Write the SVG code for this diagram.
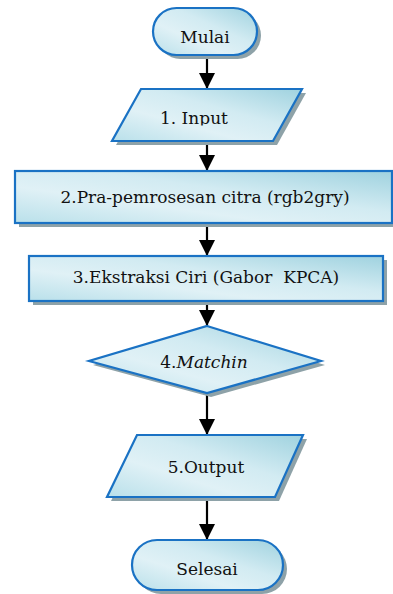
<svg xmlns="http://www.w3.org/2000/svg" width="393" height="594" viewBox="0 0 393 594">
<defs>
<linearGradient id="g" x1="0" y1="1" x2="1" y2="0">
<stop offset="0" stop-color="#b9e0ea"/>
<stop offset="0.35" stop-color="#e0f1f6"/>
<stop offset="0.6" stop-color="#d2ebf2"/>
<stop offset="1" stop-color="#9fd2df"/>
</linearGradient>
<marker id="ah" markerUnits="userSpaceOnUse" markerWidth="18" markerHeight="18" refX="16" refY="8" orient="auto">
<path d="M0,0 L16,8 L0,16 Z" fill="#000"/>
</marker>
<clipPath id="clipIn"><rect x="100" y="80" width="220" height="45.5"/></clipPath>
</defs>
<style>
.sh{fill:#8ea2a8}
.nd{fill:url(#g);stroke:#1a72c4;stroke-width:2.2}
.tx{font-family:'DejaVu Serif',serif;font-size:17px;fill:#111;text-anchor:middle;white-space:pre}
.cn{stroke:#000;stroke-width:2.2;fill:none;marker-end:url(#ah)}
</style>
<rect width="393" height="594" fill="#fff"/>
<g id="connectors">
<line class="cn" x1="207" y1="55" x2="207" y2="89"/>
<line class="cn" x1="207" y1="142" x2="207" y2="171"/>
<line class="cn" x1="207" y1="224" x2="207" y2="256"/>
<line class="cn" x1="207" y1="302" x2="207" y2="326"/>
<line class="cn" x1="207" y1="394" x2="207" y2="435"/>
<line class="cn" x1="207" y1="498" x2="207" y2="540"/>
</g>
<g id="mulai">
<rect class="sh" x="157" y="12" width="104" height="47" rx="23.5"/>
<rect class="nd" x="153" y="8" width="104" height="47" rx="23.5"/>
<text class="tx" x="205" y="43">Mulai</text>
</g>
<g id="input">
<polygon class="sh" points="145,93 306,93 277,145 116,145"/>
<polygon class="nd" points="141,89 302,89 273,141 112,141"/>
<text class="tx" x="160" y="124" style="text-anchor:start" clip-path="url(#clipIn)">1. Input</text>
</g>
<g id="pra">
<rect class="sh" x="19" y="175" width="378" height="52"/>
<rect class="nd" x="15" y="171" width="377" height="52"/>
<text class="tx" x="205" y="203">2.Pra-pemrosesan citra (rgb2gry)</text>
</g>
<g id="ekstraksi">
<rect class="sh" x="33" y="260" width="354" height="45"/>
<rect class="nd" x="29" y="256" width="354" height="45"/>
<text class="tx" x="206" y="283">3.Ekstraksi Ciri (Gabor  KPCA)</text>
</g>
<g id="matching">
<polygon class="sh" points="211,330 325,365 211,397 93,365"/>
<polygon class="nd" points="207,326 321,361 207,393 89,361"/>
<text class="tx" x="204" y="368">4.<tspan font-style="italic">Matchin</tspan></text>
</g>
<g id="output">
<polygon class="sh" points="141,439 307,439 279,501 111,501"/>
<polygon class="nd" points="137,435 303,435 275,497 107,497"/>
<text class="tx" x="206" y="473">5.Output</text>
</g>
<g id="selesai">
<rect class="sh" x="136" y="544" width="151" height="50" rx="25"/>
<rect class="nd" x="132" y="540" width="151" height="50" rx="25"/>
<text class="tx" x="207" y="575">Selesai</text>
</g>
</svg>
